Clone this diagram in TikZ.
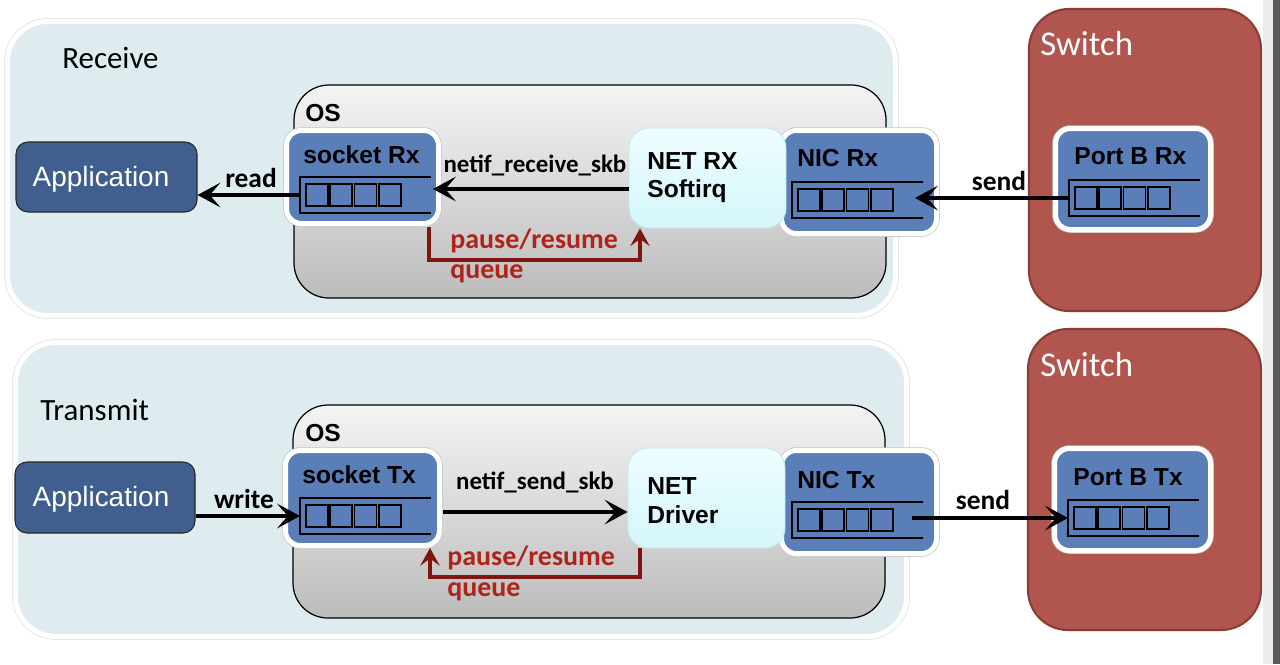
\documentclass[tikz,border=0pt]{standalone}
\usepackage{fontspec}
\setmainfont{Carlito}
\newfontfamily\arialf{Liberation Sans}
\usetikzlibrary{arrows.meta}
\definecolor{panelblue}{HTML}{DEEBEF}
\definecolor{compblue}{HTML}{5A7EB7}
\definecolor{appblue}{HTML}{405F8E}
\definecolor{switchred}{HTML}{B0564F}
\definecolor{switchedge}{HTML}{8B3C37}
\definecolor{pauseline}{HTML}{7E1510}
\definecolor{pausetext}{HTML}{B0231B}
\definecolor{nettop}{HTML}{EEFDFF}
\definecolor{netbot}{HTML}{D4F6FA}
\definecolor{netedge}{HTML}{C4E8EC}
\definecolor{ostop}{HTML}{F4F4F4}
\definecolor{osbot}{HTML}{BCBCBC}
\newcommand\rsComp{\arialf\bfseries\fontsize{14}{16.4}\selectfont}
\newcommand\rsApp{\arialf\fontsize{15.9}{18}\selectfont}
\newcommand\rsSec{\fontsize{17.6}{20}\selectfont}
\newcommand\rsSw{\fontsize{19.8}{22}\selectfont}
\newcommand\rsLbl{\bfseries\fontsize{14.2}{16}\selectfont}
\newcommand\rsRW{\bfseries\fontsize{15.6}{18}\selectfont}
\newcommand\rsPause{\bfseries\fontsize{15.9}{18}\selectfont}
\newcommand\rsOS{\arialf\bfseries\fontsize{14}{16}\selectfont}
\begin{document}
\begin{tikzpicture}[x=0.02cm,y=-0.02cm,
  sz/.style 2 args={minimum width=#1*0.02cm, minimum height=#2*0.02cm, inner sep=0pt},
  panel/.style={fill=panelblue, draw=white, line width=0.1cm, rounded corners=0.8cm,
     preaction={draw=black!12, line width=0.13cm}},
  osbox/.style={top color=ostop, bottom color=osbot, draw=black, line width=0.7pt, rounded corners=0.7cm},
  comp/.style={fill=compblue, draw=white, line width=0.1cm, rounded corners=0.3cm,
     preaction={draw=black!22, line width=0.13cm}},
  appbox/.style={fill=appblue, draw=black!85, line width=0.6pt, rounded corners=0.24cm},
  netbox/.style={top color=nettop, bottom color=netbot, draw=netedge, line width=0.5pt, rounded corners=0.4cm},
  switchbox/.style={fill=switchred, draw=switchedge, line width=1.2pt, rounded corners=0.8cm},
  txt/.style={inner sep=0pt, anchor=west},
  comptxt/.style={txt, font=\rsComp},
  pausetxt/.style={txt, font=\rsPause, text=pausetext},
  flow/.style={line width=2.3pt, -{Stealth[length=13pt,width=14pt,inset=6pt]}},
  pausearrow/.style={draw=pauseline, line width=2.3pt, -{Stealth[length=10pt,width=11pt,inset=4pt]}},
  queue/.pic={
    \draw[line width=1.6pt] (131,0) -- (0,0) -- (0,36) -- (131,36);
    \foreach \i in {0,...,3} \draw[line width=1pt] (6+\i*24.3,7) rectangle ++(22,22);
    \coordinate (-l) at (0,18);
  }]
\useasboundingbox (0,0) rectangle (1280,664);
\fill[white] (0,0) rectangle (1280,664);
\fill[black!8] (1263,0) rectangle (1273,664);
\fill[black!65] (1273,0) rectangle (1280,664);

% ---------------- Receive ----------------
\node[panel, sz={888}{294}] (panelR) at (451.5,168.5) {};
\node[txt, font=\rsSec] (lblRecv) at (62,58) {Receive};
\node[osbox, sz={592}{213}] (osR) at (590,191.5) {};
\node[txt, font=\rsOS] (osRlbl) at (305,113) {OS};
\node[comp, sz={155}{103}] (nicRx) at (859,182) {};
\node[netbox, sz={157}{100}] (netRx) at (707.5,178) {};
\node[comptxt, align=left] (netRxlbl) at (647,177.5) {NET RX\\Softirq};
\node[comp, sz={152}{93}] (sockRx) at (362.5,177) {};
\node[comptxt] (sockRxlbl) at (303,155) {socket Rx};
\node[comptxt] (nicRxlbl) at (797,158) {NIC Rx};
\node[appbox, sz={181}{70}] (appR) at (106.5,177) {};
\node[font=\rsApp, text=white] (appRlbl) at (101,179) {Application};
\node[switchbox, sz={232}{302}] (switchR) at (1145,160) {};
\node[txt, font=\rsSw, text=white] (switchRlbl) at (1040,44) {Switch};
\node[comp, sz={155}{101}] (portRx) at (1133,179) {};
\node[comptxt] (portRxlbl) at (1074,156) {Port B Rx};
\pic (qSR) at (300,177) {queue};
\pic (qNR) at (792,182) {queue};
\pic (qPR) at (1069,180) {queue};

\coordinate (rcvTip) at (433,189);
\coordinate (nicRxTip) at (915,200);
\draw[flow] (qSR-l) -- (qSR-l -| appR.east);
\draw[flow] (netRx.west |- rcvTip) -- (rcvTip);
\draw[flow] (qPR-l) -- (qPR-l -| nicRxTip);
\node[font=\rsRW] (readlbl) at (251,178) {read};
\node[font=\rsLbl] (rcvlbl) at (535,165) {netif\_receive\_skb};
\node[font=\rsRW] (sendRlbl) at (999,181) {send};

\coordinate (pr1) at (429,227);
\coordinate (pr2) at (640,260);
\draw[pausearrow] (pr1) |- (pr2) -- (pr2 |- netRx.south);
\node[pausetxt] (pauseR) at (450,241) {pause/resume};
\node[pausetxt] (queueR) at (450,274) {queue};

% ---------------- Transmit ----------------
\node[panel, sz={891}{294}] (panelT) at (461,489.5) {};
\node[txt, font=\rsSec] (lblTx) at (40,410) {Transmit};
\node[osbox, sz={592}{213}] (osT) at (589,511.5) {};
\node[txt, font=\rsOS] (osTlbl) at (305,433) {OS};
\node[comp, sz={155}{103}] (nicTx) at (859,502) {};
\node[netbox, sz={157}{100}] (netD) at (706.5,498) {};
\node[comptxt, align=left] (netDlbl) at (647,500.5) {NET\\Driver};
\node[comp, sz={154}{95}] (sockTx) at (362.5,498) {};
\node[comptxt] (sockTxlbl) at (302,475) {socket Tx};
\node[comptxt] (nicTxlbl) at (797,480) {NIC Tx};
\node[appbox, sz={180}{71}] (appT) at (105,497.5) {};
\node[font=\rsApp, text=white] (appTlbl) at (101,499) {Application};
\node[switchbox, sz={233}{301}] (switchT) at (1144.5,479.5) {};
\node[txt, font=\rsSw, text=white] (switchTlbl) at (1040,365) {Switch};
\node[comp, sz={156}{102}] (portTx) at (1132.5,499.5) {};
\node[comptxt] (portTxlbl) at (1073,477) {Port B Tx};
\pic (qST) at (300,498) {queue};
\pic (qNT) at (792,502) {queue};
\pic (qPT) at (1068,500) {queue};

\coordinate (sendStart) at (443,512);
\coordinate (nicTxStart) at (912,518);
\draw[flow] (appT.east |- qST-l) -- (qST-l);
\draw[flow] (sendStart) -- (sendStart -| netD.west);
\draw[flow] (nicTxStart) -- (nicTxStart -| qPT-l);
\node[font=\rsRW] (writelbl) at (244,499) {write};
\node[font=\rsLbl] (sendlbl) at (535,482) {netif\_send\_skb};
\node[font=\rsRW] (sendTlbl) at (983,500) {send};

\coordinate (pt1) at (640,577);
\coordinate (pt2) at (430,577);
\draw[pausearrow] (pt1 |- netD.south) -- (pt1) -- (pt2) -- (pt2 |- sockTx.south);
\node[pausetxt] (pauseT) at (447,558) {pause/resume};
\node[pausetxt] (queueT) at (447,592) {queue};
\end{tikzpicture}
\end{document}
